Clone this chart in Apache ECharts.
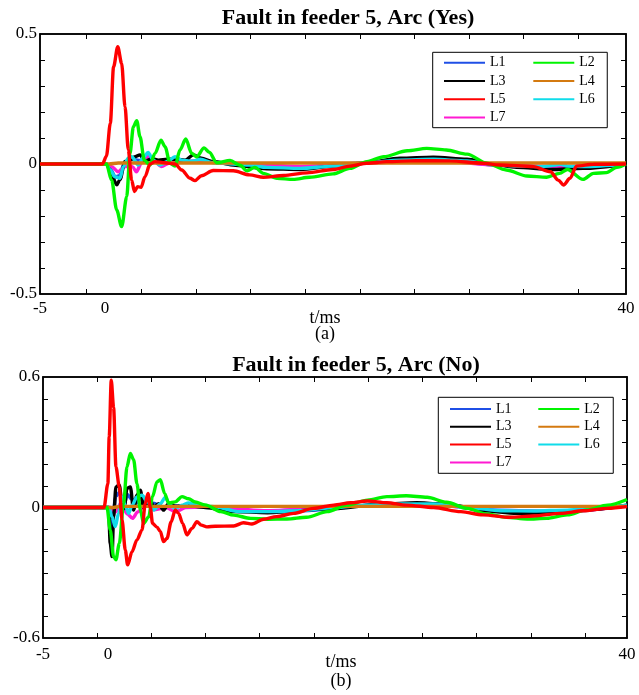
<!DOCTYPE html>
<html>
<head>
<meta charset="utf-8">
<script src="https://cdn.jsdelivr.net/npm/echarts@6/dist/echarts.min.js"></script>
<style>
  html, body { margin: 0; padding: 0; background: #fff; }
  #chart { width: 639px; height: 695px; }
</style>
</head>
<body>
<div id="chart"></div>
<script>
// ---------- data (t in ms, i0 in A) ----------
const legendCol1 = ['L1', 'L3', 'L5', 'L7'];
const legendCol2 = ['L2', 'L4', 'L6'];
const xLabelValues = [-5, 0, 40];
const xTicksA = [-1.41, 2.78, 6.98, 11.17, 15.36, 19.56, 23.75, 27.94, 32.13, 36.33];
const xTicksB = [-0.84, 3.34, 7.52, 11.7, 15.88, 20.06, 24.24, 28.42, 32.6, 36.78];
const yLabelsA = [-0.5, 0, 0.5];
const yTicksA = [-0.4, -0.3, -0.2, -0.1, 0, 0.1, 0.2, 0.3, 0.4];
const yLabelsB = [-0.6, 0, 0.6];
const yTicksB = [-0.5, -0.4, -0.3, -0.2, -0.1, 0, 0.1, 0.2, 0.3, 0.4, 0.5];

// (a) Arc (Yes)
const aT_L1 = [-5, 0.1, 0.4, 0.8, 1.1, 1.5, 2.0, 2.5, 3.0, 3.5, 4.2, 5, 6, 7.5, 10, 15, 20, 25, 30, 35, 40];
const aV_L1 = [0, 0, -0.02, -0.05, -0.045, 0.005, 0.02, 0.015, 0.01, 0.02, 0.008, 0.012, 0.01, 0.012, 0, -0.012, 0.004, 0.02, -0.004, -0.014, 0];
const aT_L2 = [-5, 0.1, 0.5, 0.89, 1.27, 1.66, 1.91, 2.17, 2.43, 2.68, 3.01, 3.45, 3.83, 4.29, 4.6, 4.98, 5.37, 5.75, 6.19, 6.65, 7.03, 7.6, 8.0, 8.57, 9.6, 10.36, 10.9, 11.5, 12.15, 13.2, 14.45, 15.7, 17.5, 18.8, 20.1, 21.4, 23.2, 24.7, 26.2, 27.8, 29.3, 30.8, 32.4, 33.9, 34.9, 35.5, 36.7, 37.5, 38.5, 39.3, 40];
const aV_L2 = [0, 0, -0.062, -0.177, -0.241, -0.126, 0.041, 0.143, 0.167, 0.105, 0.015, -0.004, 0.041, 0.092, 0.067, 0.003, -0.008, 0.054, 0.096, 0.041, 0.028, 0.062, 0.045, 0.005, 0.014, -0.005, -0.026, -0.013, -0.036, -0.055, -0.059, -0.051, -0.038, -0.017, 0.009, 0.028, 0.051, 0.06, 0.054, 0.038, 0.003, -0.023, -0.046, -0.051, -0.036, -0.021, -0.059, -0.036, -0.033, -0.013, 0];
const aT_L3 = [-5, 0.1, 0.38, 0.89, 1.14, 1.53, 1.91, 2.3, 2.68, 3.06, 3.6, 4.1, 4.8, 5.37, 6.14, 6.78, 7.4, 8.2, 10, 12.4, 15, 17.5, 20.1, 22.65, 25.2, 27.8, 29.6, 31.6, 34.2, 36.7, 40];
const aV_L3 = [0, 0, -0.023, -0.08, -0.06, 0.01, 0.015, 0.028, 0.035, 0.01, 0.02, 0.015, 0.018, 0.018, 0.015, 0.035, 0.022, 0.01, -0.005, -0.018, -0.021, -0.008, 0.005, 0.022, 0.026, 0.018, 0, -0.013, -0.021, -0.017, 0];
const aT_L4 = [-5, 0.3, 1, 40];
const aV_L4 = [0, 0, 0.004, 0.004];
const aT_L5 = [-5, -0.2, 0.1, 0.4, 0.65, 0.97, 1.27, 1.53, 1.78, 2.04, 2.25, 2.5, 2.76, 3.06, 3.45, 3.83, 4.6, 5.37, 5.88, 6.52, 6.9, 7.4, 8.3, 9.85, 11.1, 12.15, 13.7, 15.5, 17.5, 18.8, 20.1, 21.6, 23.9, 26.5, 29, 30.3, 32.9, 34.2, 34.8, 35.2, 35.7, 36.2, 37.5, 40];
const aV_L5 = [0, 0, 0.03, 0.157, 0.374, 0.451, 0.387, 0.22, 0.054, -0.062, -0.106, -0.087, -0.09, -0.049, 0, 0.009, 0.005, 0, -0.023, -0.055, -0.064, -0.045, -0.025, -0.026, -0.042, -0.051, -0.044, -0.034, -0.021, -0.008, 0.003, 0.009, 0.013, 0.012, 0.003, -0.004, -0.01, -0.03, -0.062, -0.081, -0.055, -0.008, -0.001, 0];
const aT_L6 = [-5, 0.1, 0.38, 0.76, 1.14, 1.4, 1.78, 2.04, 2.55, 2.94, 3.3, 3.7, 4.2, 4.8, 5.37, 5.88, 6.65, 7.3, 8.3, 9.85, 11.1, 12.4, 15, 17.5, 20.1, 22.65, 25.2, 27.8, 29.6, 31.6, 33.5, 34.6, 35.0, 35.5, 36.7, 40];
const aV_L6 = [0, 0, -0.023, -0.049, -0.055, -0.01, 0.022, 0.028, -0.004, 0.026, 0.044, 0.015, -0.004, 0.01, 0.028, 0.015, 0.01, 0.018, 0.005, 0, -0.004, -0.013, -0.017, -0.008, 0.005, 0.015, 0.018, 0.012, 0, -0.008, -0.01, -0.004, -0.001, -0.008, -0.01, 0];
const aT_L7 = [-5, 0.1, 0.5, 1.0, 1.5, 2.1, 2.4, 2.8, 3.3, 3.8, 4.3, 5, 6, 7.5, 10, 15, 20, 25, 30, 35, 40];
const aV_L7 = [0, 0, -0.01, -0.03, -0.01, -0.01, -0.03, 0.005, 0.03, 0.01, -0.01, 0.005, 0.01, 0.01, 0, -0.01, 0.003, 0.015, -0.003, -0.01, 0];

// (b) Arc (No)
const bT_L1 = [-5, 0.1, 0.3, 0.6, 0.9, 1.2, 1.5, 1.8, 2.2, 2.6, 3.0, 3.5, 4.2, 5.0, 6.0, 7.5, 10, 15, 20, 25, 30, 35, 40];
const bV_L1 = [0, 0, -0.1, 0.05, 0.07, 0.0, 0.06, 0.04, 0.02, 0.05, 0.01, 0.02, 0.0, 0.01, 0.005, 0.005, -0.015, -0.015, 0.01, 0.018, -0.012, -0.02, 0.01];
const bT_L2 = [-5, -0.07, 0.18, 0.44, 0.62, 0.88, 1.21, 1.47, 1.73, 1.98, 2.24, 2.5, 2.75, 3.14, 3.44, 3.78, 4.04, 4.37, 4.68, 5.19, 5.71, 6.22, 6.73, 7.5, 8.7, 9.7, 11.0, 12.3, 13.8, 15.3, 16.9, 18.4, 20.0, 21.5, 23.0, 24.6, 26.1, 27.7, 29.2, 30.7, 32.3, 33.8, 35.4, 36.9, 38.5, 40];
const bV_L2 = [0, 0, -0.103, -0.226, -0.24, -0.165, 0.018, 0.187, 0.249, 0.22, 0.11, -0.01, -0.073, -0.043, 0.05, 0.118, 0.128, 0.065, 0.02, 0.026, 0.05, 0.04, 0.025, 0.012, -0.019, -0.035, -0.05, -0.054, -0.053, -0.045, -0.019, 0.011, 0.034, 0.05, 0.054, 0.047, 0.024, -0.004, -0.03, -0.045, -0.053, -0.05, -0.034, -0.011, 0.011, 0.037];
const bT_L3 = [-5, 0.05, 0.18, 0.32, 0.44, 0.62, 0.88, 1.09, 1.26, 1.47, 1.73, 1.98, 2.24, 2.5, 2.75, 3.01, 3.27, 3.52, 3.9, 4.29, 4.68, 5.19, 5.96, 7.5, 9.7, 12.3, 17.4, 21.2, 23.8, 26.7, 28.9, 31.5, 34.3, 37, 40];
const bV_L3 = [0, 0, -0.165, -0.226, -0.043, 0.095, 0.103, 0.018, -0.005, 0.088, 0.095, -0.012, 0.057, 0.08, 0.0, 0.01, 0.034, 0.0, 0.018, -0.012, 0.018, 0.005, 0.01, 0.0, -0.019, -0.024, -0.005, 0.016, 0.022, 0.01, -0.015, -0.027, -0.024, -0.01, 0.011];
const bT_L4 = [-5, 0.3, 1, 40];
const bV_L4 = [0, 0, 0.005, 0.005];
const bT_L5 = [-5, -0.3, 0.0, 0.1, 0.26, 0.44, 0.62, 0.88, 1.09, 1.34, 1.52, 1.86, 2.24, 2.63, 2.88, 3.09, 3.27, 3.44, 3.78, 4.04, 4.29, 4.55, 4.88, 5.19, 5.45, 5.76, 6.09, 6.48, 6.86, 7.2, 7.63, 8.27, 9.7, 10.45, 11.1, 12.0, 13.0, 14.3, 15.85, 17.4, 18.7, 20.0, 21.5, 23.0, 25.1, 27.2, 28.9, 31.0, 32.8, 34.9, 36.6, 38.5, 40];
const bV_L5 = [0, 0, 0.11, 0.325, 0.585, 0.46, 0.187, 0.095, -0.057, -0.195, -0.264, -0.203, -0.149, -0.103, 0.019, 0.065, 0, -0.073, -0.09, -0.11, -0.157, -0.142, -0.065, -0.011, -0.027, -0.073, -0.126, -0.096, -0.065, -0.081, -0.089, -0.086, -0.085, -0.07, -0.076, -0.054, -0.042, -0.027, -0.004, 0.011, 0.022, 0.03, 0.022, 0.011, 0, -0.019, -0.034, -0.045, -0.039, -0.027, -0.015, -0.004, 0.004];
const bT_L6 = [-5, 0.05, 0.32, 0.57, 0.82, 1.09, 1.34, 1.6, 1.86, 2.24, 2.63, 3.01, 3.52, 4.04, 4.42, 4.81, 5.19, 5.71, 6.22, 7.0, 8.0, 10.2, 12.3, 14.8, 17.4, 20, 22.6, 25.1, 27.7, 30.3, 32.8, 35.4, 38, 40];
const bV_L6 = [0, 0, -0.043, -0.088, -0.027, 0.049, 0.01, -0.027, 0.01, 0.049, 0.057, 0.03, -0.012, 0.018, 0.046, 0.01, -0.005, 0.01, 0.021, 0.01, 0.005, -0.019, -0.019, -0.015, 0, 0.011, 0.016, 0.016, 0, -0.015, -0.016, -0.012, 0, 0.011];
const bT_L7 = [-5, 0.2, 0.6, 1.0, 1.5, 1.9, 2.3, 3.0, 3.6, 4.5, 5.2, 6.0, 8, 12, 18, 24, 30, 35, 40];
const bV_L7 = [0, 0, -0.02, 0.02, -0.03, -0.05, -0.02, 0.02, -0.01, 0.0, -0.02, 0.0, 0.003, -0.015, 0.005, 0.018, -0.015, -0.018, 0.008];

// ---------- styling ----------
const FONT = '"Liberation Serif", "DejaVu Serif", serif';
const colors = { L1: '#1f4fe6', L2: '#00f400', L3: '#000000', L4: '#d47a10', L5: '#ff0000', L6: '#10dcea', L7: '#ff1ad2' };
// drawing order (last on top)
const drawOrder = ['L1', 'L7', 'L3', 'L6', 'L4', 'L2', 'L5'];
const dataA = { L1: [aT_L1, aV_L1], L2: [aT_L2, aV_L2], L3: [aT_L3, aV_L3], L4: [aT_L4, aV_L4], L5: [aT_L5, aV_L5], L6: [aT_L6, aV_L6], L7: [aT_L7, aV_L7] };
const dataB = { L1: [bT_L1, bV_L1], L2: [bT_L2, bV_L2], L3: [bT_L3, bV_L3], L4: [bT_L4, bV_L4], L5: [bT_L5, bV_L5], L6: [bT_L6, bV_L6], L7: [bT_L7, bV_L7] };

const chart = echarts.init(document.getElementById('chart'), null, { renderer: 'canvas' });

const makeSeries = (name, pair, g) => ({
	name: name,
	type: 'line',
	xAxisIndex: g * 2,
	yAxisIndex: g * 2,
	data: pair[0].map((t, i) => [t, pair[1][i]]),
	symbol: 'none',
	showSymbol: false,
	smooth: 0.3,
	smoothMonotone: 'x',
	lineStyle: { width: 3.4, color: colors[name] },
	itemStyle: { color: colors[name] },
	animation: false
});

const lineStyleBlack = { color: '#000', width: 1.5 };
const tickStyle = { color: '#000', width: 1 };

const makeXAxes = (g, ticks) => ([
	{
		type: 'value', gridIndex: g, min: -5, max: 40, position: 'bottom',
		axisLine: { show: true, onZero: false, lineStyle: lineStyleBlack },
		axisTick: { show: true, inside: true, length: 5, customValues: ticks, lineStyle: tickStyle },
		axisLabel: { customValues: xLabelValues, color: '#000', fontFamily: FONT, fontSize: 17, margin: g === 0 ? 6 : 8 },
		splitLine: { show: false }
	},
	{
		type: 'value', gridIndex: g, min: -5, max: 40, position: 'top',
		axisLine: { show: true, onZero: false, lineStyle: lineStyleBlack },
		axisTick: { show: true, inside: true, length: 5, customValues: ticks, lineStyle: tickStyle },
		axisLabel: { show: false },
		splitLine: { show: false }
	}
]);

const makeYAxes = (g, lo, hi, labels, ticks) => ([
	{
		type: 'value', gridIndex: g, min: lo, max: hi, position: 'left',
		name: '{i|i}{s|0}/A', nameLocation: 'middle', nameRotate: -90, nameGap: 14,
		nameTextStyle: {
			color: '#000', fontFamily: FONT, fontSize: 17,
			rich: {
				i: { fontFamily: FONT, fontSize: 17, fontStyle: 'italic', color: '#000' },
				s: { fontFamily: FONT, fontSize: 12, color: '#000', padding: [6, 0, 0, 0] }
			}
		},
		axisLine: { show: true, onZero: false, lineStyle: lineStyleBlack },
		axisTick: { show: true, inside: true, length: 5, customValues: ticks, lineStyle: tickStyle },
		axisLabel: { customValues: labels, color: '#000', fontFamily: FONT, fontSize: 17, margin: 3 },
		splitLine: { show: false }
	},
	{
		type: 'value', gridIndex: g, min: lo, max: hi, position: 'right',
		axisLine: { show: true, onZero: false, lineStyle: lineStyleBlack },
		axisTick: { show: true, inside: true, length: 5, customValues: ticks, lineStyle: tickStyle },
		axisLabel: { show: false },
		splitLine: { show: false }
	}
]);

const legendText = { color: '#000', fontFamily: FONT, fontSize: 14, lineHeight: 14 };
const legendBase = { orient: 'vertical', icon: 'rect', itemWidth: 41, itemHeight: 2, selectedMode: false, textStyle: legendText };

const series = [];
drawOrder.forEach(n => series.push(makeSeries(n, dataA[n], 0)));
drawOrder.forEach(n => series.push(makeSeries(n, dataB[n], 1)));

const option = {
	backgroundColor: '#fff',
	animation: false,
	title: [
		{ text: 'Fault in feeder 5, Arc (Yes)', left: 348, top: 7, padding: 0, textAlign: 'center',
		  textStyle: { fontFamily: FONT, fontWeight: 'bold', fontSize: 22, color: '#000' } },
		{ text: 'Fault in feeder 5, Arc (No)', left: 356, top: 354, padding: 0, textAlign: 'center',
		  textStyle: { fontFamily: FONT, fontWeight: 'bold', fontSize: 22, color: '#000' } }
	],
	grid: [
		{ left: 40, top: 34, width: 586, height: 260, show: true, borderColor: '#000', borderWidth: 1.5,
		  backgroundColor: 'transparent', containLabel: false, outerBoundsMode: 'none' },
		{ left: 43, top: 377, width: 584, height: 261, show: true, borderColor: '#000', borderWidth: 1.5,
		  backgroundColor: 'transparent', containLabel: false, outerBoundsMode: 'none' }
	],
	xAxis: [...makeXAxes(0, xTicksA), ...makeXAxes(1, xTicksB)],
	yAxis: [...makeYAxes(0, -0.5, 0.5, yLabelsA, yTicksA), ...makeYAxes(1, -0.6, 0.6, yLabelsB, yTicksB)],
	legend: [
		Object.assign({}, legendBase, { data: legendCol1, left: 432.7, top: 52.3, itemGap: 4.3,
			padding: [3.4, 101.7, 3.1, 11.3], borderColor: '#000', borderWidth: 1, backgroundColor: '#fff' }),
		Object.assign({}, legendBase, { data: legendCol2, left: 533.3, top: 55.7, itemGap: 4.3, padding: 0 }),
		Object.assign({}, legendBase, { data: legendCol1, left: 438.3, top: 397.3, itemGap: 3.8,
			padding: [4.7, 101.7, 3.9, 11.7], borderColor: '#000', borderWidth: 1, backgroundColor: '#fff' }),
		Object.assign({}, legendBase, { data: legendCol2, left: 538.3, top: 402, itemGap: 3.8, padding: 0 })
	],
	graphic: [
		{ type: 'text', x: 325, y: 318, style: { text: 't/ms', fill: '#000', font: '18px ' + FONT, textAlign: 'center', textVerticalAlign: 'middle' } },
		{ type: 'text', x: 325, y: 334, style: { text: '(a)', fill: '#000', font: '18px ' + FONT, textAlign: 'center', textVerticalAlign: 'middle' } },
		{ type: 'text', x: 341, y: 662, style: { text: 't/ms', fill: '#000', font: '18px ' + FONT, textAlign: 'center', textVerticalAlign: 'middle' } },
		{ type: 'text', x: 341, y: 681, style: { text: '(b)', fill: '#000', font: '18px ' + FONT, textAlign: 'center', textVerticalAlign: 'middle' } }
	],
	series: series
};

chart.setOption(option);
</script>
</body>
</html>
